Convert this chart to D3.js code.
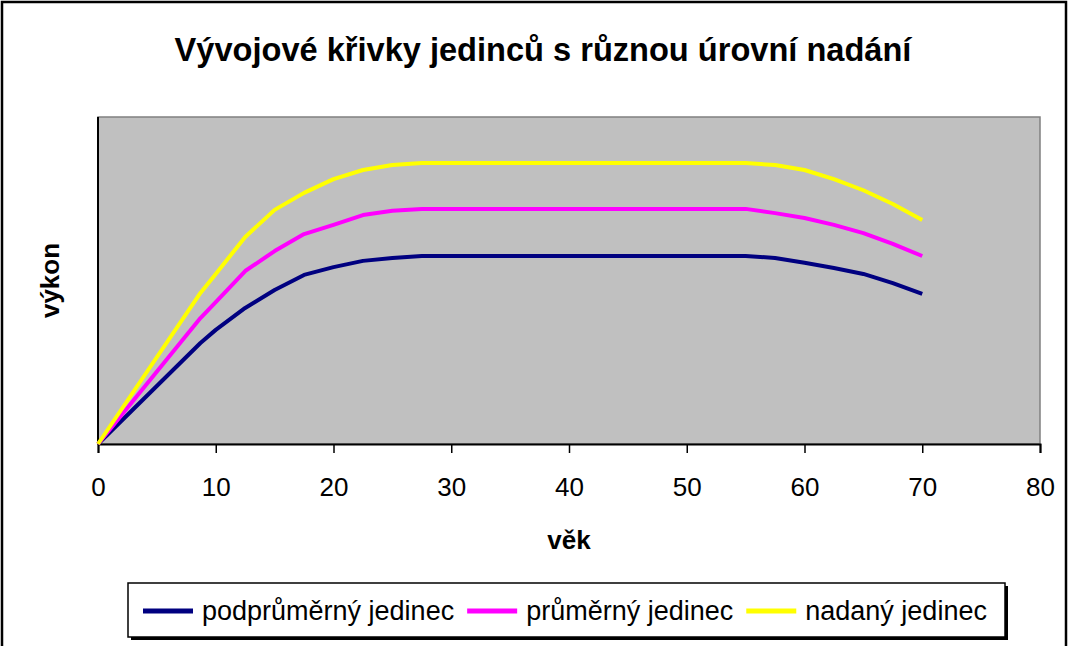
<!DOCTYPE html>
<html>
<head>
<meta charset="utf-8">
<script src="https://cdn.jsdelivr.net/npm/d3@7"></script>
<style>
  body { margin: 0; background: #fff; }
  svg { display: block; font-family: "Liberation Sans", Arial, sans-serif; }
</style>
</head>
<body>
<div id="chart"></div>
<script>
// vek (age) at which values were read
let ages = [0, 8.7, 10, 12.5, 15, 17.5, 20, 22.5, 25, 27.5, 30, 40, 50, 55, 57.5, 60, 62.5, 65, 67.5, 70]

let podprumerny = [0, 30.9, 34.9, 41.6, 47.1, 51.7, 54.1, 56.0, 56.9, 57.5, 57.5, 57.5, 57.5, 57.5, 56.9, 55.4, 53.8, 52.0, 49.2, 45.9]
let prumerny    = [0, 38.5, 43.4, 52.9, 59.0, 64.2, 67.0, 70.0, 71.3, 71.9, 71.9, 71.9, 71.9, 71.9, 70.6, 69.1, 67.0, 64.5, 61.2, 57.5]
let nadany      = [0, 46.2, 52.0, 63.3, 71.6, 76.8, 81.0, 83.8, 85.3, 85.9, 85.9, 85.9, 85.9, 85.9, 85.3, 83.8, 81.0, 77.6, 73.4, 68.5]

let seriesNames = ['podprůměrný jedinec', 'průměrný jedinec', 'nadaný jedinec']
let seriesColors = ['#000080', '#FF00FF', '#FFFF00']
let xTicks = [0, 10, 20, 30, 40, 50, 60, 70, 80]

let title = 'Vývojové křivky jedinců s různou úrovní nadání'
let xTitle = 'věk'
let yTitle = 'výkon'

let W = 1069, H = 646
let margin = {top: 117, right: 29, bottom: 202, left: 98}
let width = W - margin.left - margin.right,
    height = H - margin.top - margin.bottom

let svg = d3.select('#chart').append('svg')
  .attr('width', W)
  .attr('height', H)

// outer frame
svg.append('rect')
  .attr('x', 2).attr('y', 2)
  .attr('width', W - 5).attr('height', H + 10)
  .attr('fill', '#fff')
  .attr('stroke', '#000')
  .attr('stroke-width', 2.5)

svg.append('text')
  .attr('x', 543).attr('y', 61)
  .attr('text-anchor', 'middle')
  .attr('font-size', 32.6)
  .attr('font-weight', 'bold')
  .text(title)

let g = svg.append('g')
  .attr('transform', 'translate(' + margin.left + ',' + margin.top + ')')

let x = d3.scaleLinear().domain([0, 80]).range([0, width])
let y = d3.scaleLinear().domain([0, 100]).range([height, 0])

// plot area
g.append('rect')
  .attr('width', width).attr('height', height)
  .attr('fill', '#C0C0C0')
  .attr('stroke', '#808080')
  .attr('stroke-width', 1.5)

// x axis
let xAxis = g.append('g')
  .attr('transform', 'translate(0,' + height + ')')
  .call(d3.axisBottom(x).tickValues(xTicks).tickSize(9).tickPadding(25))
xAxis.select('.domain').attr('stroke', '#000').attr('stroke-width', 2)
xAxis.selectAll('.tick line').attr('stroke', '#000').attr('stroke-width', 1.5)
xAxis.selectAll('.tick text')
  .attr('font-family', '"Liberation Sans", Arial, sans-serif')
  .attr('font-size', 26)
  .attr('fill', '#000')

// y axis line only, no labels
g.append('line')
  .attr('x1', 0).attr('x2', 0)
  .attr('y1', 0).attr('y2', height)
  .attr('stroke', '#000')
  .attr('stroke-width', 2)

let series = [podprumerny, prumerny, nadany]
let line = d3.line()
  .x(function(d, i) { return x(ages[i]) })
  .y(function(d) { return y(d) })

series.forEach(function(s, i) {
  g.append('path')
    .datum(s)
    .attr('fill', 'none')
    .attr('stroke', seriesColors[i])
    .attr('stroke-width', 4)
    .attr('stroke-linejoin', 'round')
    .attr('d', line)
})

// axis titles
svg.append('text')
  .attr('x', margin.left + width / 2).attr('y', 549)
  .attr('text-anchor', 'middle')
  .attr('font-size', 26)
  .attr('font-weight', 'bold')
  .text(xTitle)

svg.append('text')
  .attr('transform', 'translate(59,' + (margin.top + height / 2) + ') rotate(-90)')
  .attr('text-anchor', 'middle')
  .attr('font-size', 26)
  .attr('font-weight', 'bold')
  .text(yTitle)

// legend with shadow
svg.append('rect')
  .attr('x', 131).attr('y', 586)
  .attr('width', 877).attr('height', 54)
  .attr('fill', '#000')
let legend = svg.append('g')
legend.append('rect')
  .attr('x', 128).attr('y', 583)
  .attr('width', 877).attr('height', 54)
  .attr('fill', '#fff')
  .attr('stroke', '#000')
  .attr('stroke-width', 1.5)

let lx = 143
seriesNames.forEach(function(name, i) {
  legend.append('line')
    .attr('x1', lx).attr('x2', lx + 50)
    .attr('y1', 611).attr('y2', 611)
    .attr('stroke', seriesColors[i])
    .attr('stroke-width', 5)
  let t = legend.append('text')
    .attr('x', lx + 59).attr('y', 620)
    .attr('font-size', 27)
    .text(name)
  lx = lx + 59 + t.node().getComputedTextLength() + 13
})
</script>
</body>
</html>
